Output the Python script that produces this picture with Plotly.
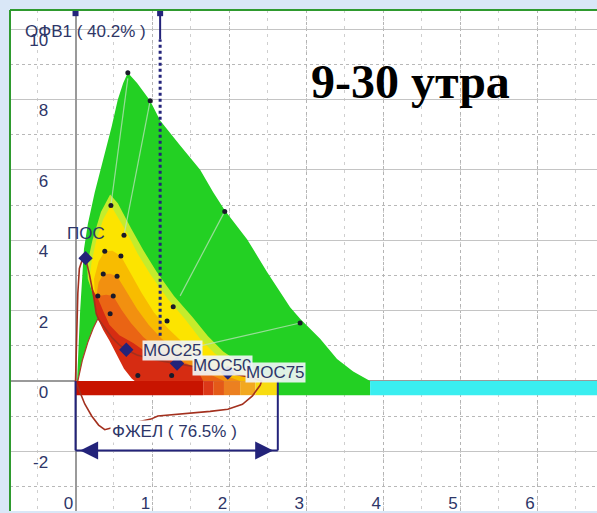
import plotly.graph_objects as go

# ---------------- data ----------------
x_ticks = [0, 1, 2, 3, 4, 5, 6]
x_tick_labels = ["0", "1", "2", "3", "4", "5", "6"]
y_ticks = [-2, 0, 2, 4, 6, 8, 10]
y_tick_labels = ["-2", "0", "2", "4", "6", "8", "10"]

# predicted (normal) zone outlines, volume (L) vs flow (L/s)
green_x = [0.02, 0.06, 0.11, 0.16, 0.25, 0.36, 0.47, 0.55, 0.62, 0.68, 0.80, 0.97, 1.10, 1.35, 1.62, 1.79, 1.94, 2.23, 2.49, 2.79, 2.92, 3.18, 3.40, 3.61, 3.83]
green_y = [0.0, 2.0, 3.75, 4.46, 5.36, 6.29, 7.23, 8.0, 8.47, 8.76, 8.47, 7.96, 7.40, 6.72, 6.0, 5.36, 4.85, 4.03, 3.10, 2.10, 1.77, 1.20, 0.63, 0.27, 0.0]

lime_x = [0.29, 0.22, 0.16, 0.15, 0.22, 0.33, 0.45, 0.55, 0.72, 0.88, 1.05, 1.28, 1.52, 1.72, 1.92, 2.18, 2.45, 2.70, 0.75]
lime_y = [1.77, 2.50, 2.90, 3.30, 4.00, 4.80, 5.30, 5.05, 4.35, 3.72, 3.12, 2.42, 1.82, 1.28, 0.84, 0.46, 0.20, 0.0, 0.0]

yellow_x = [0.29, 0.24, 0.18, 0.21, 0.27, 0.36, 0.46, 0.55, 0.68, 0.81, 0.97, 1.20, 1.42, 1.62, 1.81, 2.07, 2.33, 2.62, 0.75]
yellow_y = [1.77, 2.50, 2.90, 3.40, 4.00, 4.60, 4.99, 4.65, 4.17, 3.61, 3.04, 2.33, 1.77, 1.20, 0.78, 0.41, 0.18, 0.0, 0.0]

gold_x = [0.29, 0.25, 0.24, 0.30, 0.38, 0.48, 0.59, 0.72, 0.86, 1.02, 1.20, 1.40, 1.62, 1.85, 2.10, 2.38, 0.75]
gold_y = [1.90, 2.50, 2.90, 3.40, 3.69, 3.70, 3.55, 3.05, 2.50, 1.95, 1.50, 1.08, 0.72, 0.42, 0.20, 0.0, 0.0]

orange_x = [0.29, 0.27, 0.30, 0.36, 0.45, 0.54, 0.66, 0.80, 0.95, 1.12, 1.32, 1.55, 1.80, 2.14, 0.75]
orange_y = [1.90, 2.40, 2.80, 3.04, 3.05, 2.98, 2.55, 2.05, 1.60, 1.20, 0.85, 0.52, 0.27, 0.0, 0.0]

dorange_x = [0.29, 0.27, 0.29, 0.40, 0.49, 0.60, 0.72, 0.88, 1.05, 1.28, 1.55, 1.75, 1.93, 0.75]
dorange_y = [1.80, 2.10, 2.42, 2.45, 2.42, 2.02, 1.65, 1.25, 0.95, 0.66, 0.40, 0.20, 0.0, 0.0]

red_x = [0.20, 0.30, 0.36, 0.44, 0.57, 0.75, 0.92, 1.10, 1.30, 1.49, 1.60, 1.66, 0.60, 0.29]
red_y = [2.70, 2.30, 1.99, 1.60, 1.30, 1.08, 0.82, 0.68, 0.56, 0.44, 0.25, 0.0, 0.0, 1.77]

white_x = [0.03, 0.09, 0.16, 0.23, 0.29, 0.36, 0.44, 0.53, 0.63, 0.73, 0.77]
white_y = [0.0, 0.60, 1.10, 1.50, 1.77, 1.45, 1.15, 0.78, 0.35, 0.07, 0.0]

# faint isolines inside the green zone
iso_lines = [
    ([0.68, 0.46], [8.60, 5.00]),
    ([0.97, 0.63], [7.96, 4.14]),
    ([1.94, 1.36], [4.82, 2.42]),
    ([2.92, 1.62], [1.65, 1.00]),
]

# small black reference dots
dot_x = [0.68, 0.97, 1.94, 2.92, 0.46, 0.63, 0.38, 0.59, 0.36, 0.54, 0.29, 0.49, 0.45, 1.27, 1.19, 0.81, 1.25]
dot_y = [8.76, 7.96, 4.82, 1.65, 4.99, 4.14, 3.69, 3.55, 3.04, 2.98, 2.42, 2.42, 1.91, 2.11, 1.71, 0.16, 0.16]

# patient's flow-volume loop
loop_x = [0.0, 0.01, 0.03, 0.05, 0.08, 0.13, 0.18, 0.23, 0.27, 0.30, 0.38, 0.48, 0.57, 0.66, 0.80, 1.00, 1.15, 1.32, 1.50, 1.70, 1.85, 1.98, 2.10, 2.22, 2.32, 2.40, 2.42,
          2.40, 2.37, 2.30, 2.17, 1.98, 1.75, 1.54, 1.30, 1.07, 0.98, 0.80, 0.60, 0.45, 0.38, 0.30, 0.21, 0.12, 0.05, 0.01, 0.0]
loop_y = [0.0, 1.0, 2.5, 3.2, 3.4, 3.49, 3.04, 2.48, 1.91, 1.75, 1.50, 1.22, 1.03, 0.89, 0.74, 0.62, 0.56, 0.50, 0.43, 0.35, 0.29, 0.24, 0.19, 0.13, 0.07, 0.02, 0.0,
          -0.12, -0.22, -0.42, -0.66, -0.80, -0.86, -0.90, -0.94, -0.99, -1.08, -1.16, -1.26, -1.34, -1.38, -1.25, -0.99, -0.65, -0.30, -0.08, 0.0]
second_x = [0.03, 0.09, 0.16, 0.23, 0.29]
second_y = [0.0, 0.60, 1.10, 1.50, 1.77]

# key points
key_names = ["ПОС", "МОС25", "МОС50", "МОС75"]
key_x = [0.13, 0.66, 1.32, 1.98]
key_y = [3.49, 0.89, 0.50, 0.24]

# zone bar under the axis
bar_edges = [0.0, 1.66, 1.79, 1.93, 2.14, 2.34, 2.62, 3.83, 6.80]
bar_colors = ["#c81400", "#dc3818", "#e45a18", "#ec8020", "#f2a820", "#f8dc10", "#23d023", "#3aeef0"]

fev1_x = 1.10
fev1_label = "ОФВ1 ( 40.2% )"
fvc_x = 2.63
fvc_label = "ФЖЕЛ ( 76.5% )"
title_text = "9-30 утра"

# ---------------- figure ----------------
NAVY = "#23237a"
TXT = "#2e3668"
BG = "#d9e7f7"
fig = go.Figure()

widths = [b - a for a, b in zip(bar_edges[:-1], bar_edges[1:])]
fig.add_trace(go.Bar(orientation="h", y=[-0.2] * len(widths), x=widths, base=bar_edges[:-1],
                     width=0.4, marker=dict(color=bar_colors, line=dict(width=0)),
                     hoverinfo="skip", showlegend=False))

zones = [
    (green_x, green_y, "#23d023"),
    (lime_x, lime_y, "#c4ec2c"),
    (yellow_x, yellow_y, "#fce400"),
    (gold_x, gold_y, "#f8bc00"),
    (orange_x, orange_y, "#f29010"),
    (dorange_x, dorange_y, "#ea6414"),
    (red_x, red_y, "#d62c12"),
    (white_x, white_y, "#ffffff"),
]
for zx, zy, col in zones:
    fig.add_trace(go.Scatter(x=zx, y=zy, fill="toself", fillcolor=col, mode="lines",
                             line=dict(width=0, color=col), hoverinfo="skip", showlegend=False))

for lx, ly in iso_lines:
    fig.add_trace(go.Scatter(x=lx, y=ly, mode="lines", line=dict(color="rgba(190,225,190,0.75)", width=1.2),
                             hoverinfo="skip", showlegend=False))

fig.add_trace(go.Scatter(x=dot_x, y=dot_y, mode="markers",
                         marker=dict(color="#1a1a2a", size=5), showlegend=False))

# FEV1 marker line
fig.add_trace(go.Scatter(x=[fev1_x, fev1_x], y=[1.29, 9.7], mode="lines",
                         line=dict(color=NAVY, width=3, dash="dot"), showlegend=False))
fig.add_trace(go.Scatter(x=[fev1_x, fev1_x], y=[9.7, 10.45], mode="lines",
                         line=dict(color=NAVY, width=2), showlegend=False))
fig.add_trace(go.Scatter(x=[0, fev1_x], y=[10.45, 10.45], mode="markers",
                         marker=dict(color=NAVY, size=6, symbol="square"), showlegend=False))

# patient curves
fig.add_trace(go.Scatter(x=second_x, y=second_y, mode="lines",
                         line=dict(color="#b03a2a", width=1.2), showlegend=False))
fig.add_trace(go.Scatter(x=loop_x, y=loop_y, mode="lines",
                         line=dict(color="#a3301e", width=1.6), showlegend=False))
fig.add_trace(go.Scatter(x=key_x, y=key_y, mode="markers",
                         marker=dict(color=NAVY, size=11, symbol="diamond"), showlegend=False))

# FVC bracket
fig.add_shape(type="line", x0=0, x1=0, y0=0, y1=-1.97, line=dict(color=NAVY, width=2))
fig.add_shape(type="line", x0=fvc_x, x1=fvc_x, y0=0, y1=-1.97, line=dict(color=NAVY, width=2))
fig.add_shape(type="line", x0=0, x1=fvc_x, y0=-1.97, y1=-1.97, line=dict(color=NAVY, width=2))
for tip, tail in [(0.06, 0.30), (fvc_x - 0.06, fvc_x - 0.30)]:
    fig.add_annotation(x=tip, y=-1.97, ax=tail, ay=-1.97, axref="x", ayref="y", xref="x", yref="y",
                       showarrow=True, arrowhead=2, arrowsize=1.2, arrowwidth=3, arrowcolor=NAVY, text="")

# plot border (top & left)
fig.add_shape(type="line", xref="paper", yref="paper", x0=0, x1=0, y0=0, y1=1,
              line=dict(color="#2e9a2e", width=2))
fig.add_shape(type="line", xref="paper", yref="paper", x0=0, x1=1, y0=1, y1=1,
              line=dict(color="#2e9a2e", width=2))

lab_font = dict(family="Liberation Sans", size=17, color=TXT)
fig.add_annotation(x=0.14, y=4.2, text=key_names[0], showarrow=False, font=lab_font)
label_pos = [(0.865, 0.86), (1.515, 0.44), (2.20, 0.24)]
for name, (lx, ly) in zip(key_names[1:], label_pos):
    fig.add_annotation(x=lx, y=ly, text=name, showarrow=False, xanchor="left", font=lab_font,
                       bgcolor="rgba(240,244,246,0.92)", borderpad=0)
fig.add_annotation(x=1.29, y=-1.43, text=fvc_label, showarrow=False, font=lab_font,
                   bgcolor="#ffffff", borderpad=1)
fig.add_annotation(x=0.94, y=9.92, text=fev1_label, showarrow=False, xanchor="right", font=lab_font)
fig.add_annotation(x=4.36, y=8.52, text=title_text, showarrow=False,
                   font=dict(family="Liberation Serif", size=48, color="#000000", weight=700))

fig.update_layout(
    width=597, height=513,
    margin=dict(l=10, r=0, t=10, b=0),
    paper_bgcolor=BG, plot_bgcolor="#ffffff",
    showlegend=False, barmode="overlay",
    xaxis=dict(range=[-0.852, 6.78], tickmode="array", tickvals=x_ticks, ticktext=x_tick_labels,
               showgrid=True, gridcolor="#b4b4b4", griddash="dot", gridwidth=1,
               minor=dict(tickmode="linear", tick0=0, dtick=0.5, showgrid=True,
                          gridcolor="#cfcfcf", griddash="3px,5px", gridwidth=1),
               zeroline=True, zerolinecolor="#9a9a9a", zerolinewidth=1.5,
               anchor="free", position=0.04, showline=False, ticks="",
               tickfont=dict(family="Liberation Sans", size=17, color=TXT), ticklabelshift=-7),
    yaxis=dict(range=[-3.69, 10.54], tickmode="array", tickvals=y_ticks, ticktext=y_tick_labels,
               showgrid=True, gridcolor="#c4c4c4", gridwidth=1,
               minor=dict(tickmode="linear", tick0=0, dtick=1, showgrid=True,
                          gridcolor="#b8b8b8", griddash="dot", gridwidth=1),
               zeroline=True, zerolinecolor="#9a9a9a", zerolinewidth=1.5,
               anchor="free", position=0.065, showline=False, ticks="",
               tickfont=dict(family="Liberation Sans", size=17, color=TXT), ticklabelshift=11),
)

fig.write_html("out.html", config={"displayModeBar": False},
               post_script="document.body.style.margin='0px';document.body.style.background='%s';" % BG)
